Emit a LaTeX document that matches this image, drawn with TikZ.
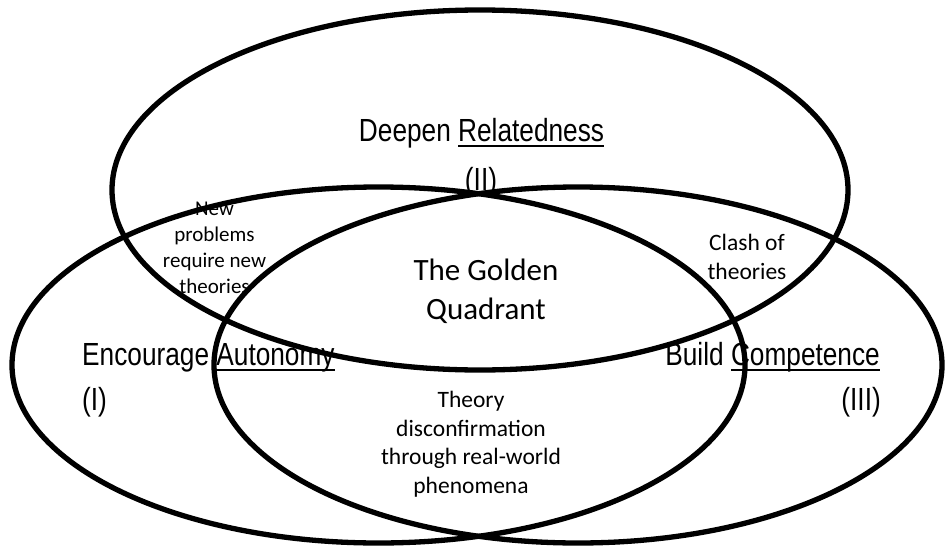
\documentclass[tikz,border=0pt]{standalone}
\usepackage{fontspec}
\usepackage{tikz}
\newfontfamily\arialn[FakeStretch=0.82]{Liberation Sans}
\newfontfamily\calib{Carlito}
\newcommand{\undl}[1]{\setbox0\hbox{#1}\rlap{\rule[-5.5pt]{\wd0}{1.8pt}}\box0}

\begin{document}
\begin{tikzpicture}[x=1pt,y=1pt]
		\tikzstyle{every node}+=[inner sep=0pt]
		\tikzstyle{head}=[font=\arialn\fontsize{32}{38}\selectfont]
		\tikzstyle{gold}=[font=\calib\fontsize{31}{39}\selectfont, align=center]
		\tikzstyle{note}=[font=\calib\fontsize{23.5}{28.5}\selectfont, align=center]
		\tikzstyle{smallnote}=[font=\calib\fontsize{21}{25.7}\selectfont, align=center]
		\tikzstyle{ring}=[black, line width=5.3pt]
		\useasboundingbox (0,0) rectangle (945,-546);
		% labels (base = last line)
		\draw (481.5,-141) node [head, anchor=base] (rel) {Deepen \undl{Relatedness}};
		\draw (481,-190) node [head, anchor=base] (relnum) {(II)};
		\draw (82,-365) node [head, anchor=base west] (aut) {Encourage \undl{Autonomy}};
		\draw (82,-410) node [head, anchor=base west] (autnum) {(I)};
		\draw (880,-365) node [head, anchor=base east] (comp) {Build \undl{Competence}};
		\draw (881,-410) node [head, anchor=base east] (compnum) {(III)};
		\draw (486,-319) node [gold, anchor=base] (golden) {The Golden\\Quadrant};
		\draw (747,-279) node [note, anchor=base] (clash) {Clash of\\theories};
		\draw (471,-493) node [note, anchor=base] (disconf) {Theory\\disconfirmation\\through real-world\\phenomena};
		\draw (214.5,-293) node [smallnote, anchor=base] (newprob) {New\\problems\\require new\\theories};
		% the three rings
		\draw [ring] (480,-190) ellipse (368pt and 180pt);
		\draw [ring] (378.5,-365) ellipse (366.5pt and 178pt);
		\draw [ring] (578,-365) ellipse (364pt and 178pt);
	\end{tikzpicture}
\end{document}
